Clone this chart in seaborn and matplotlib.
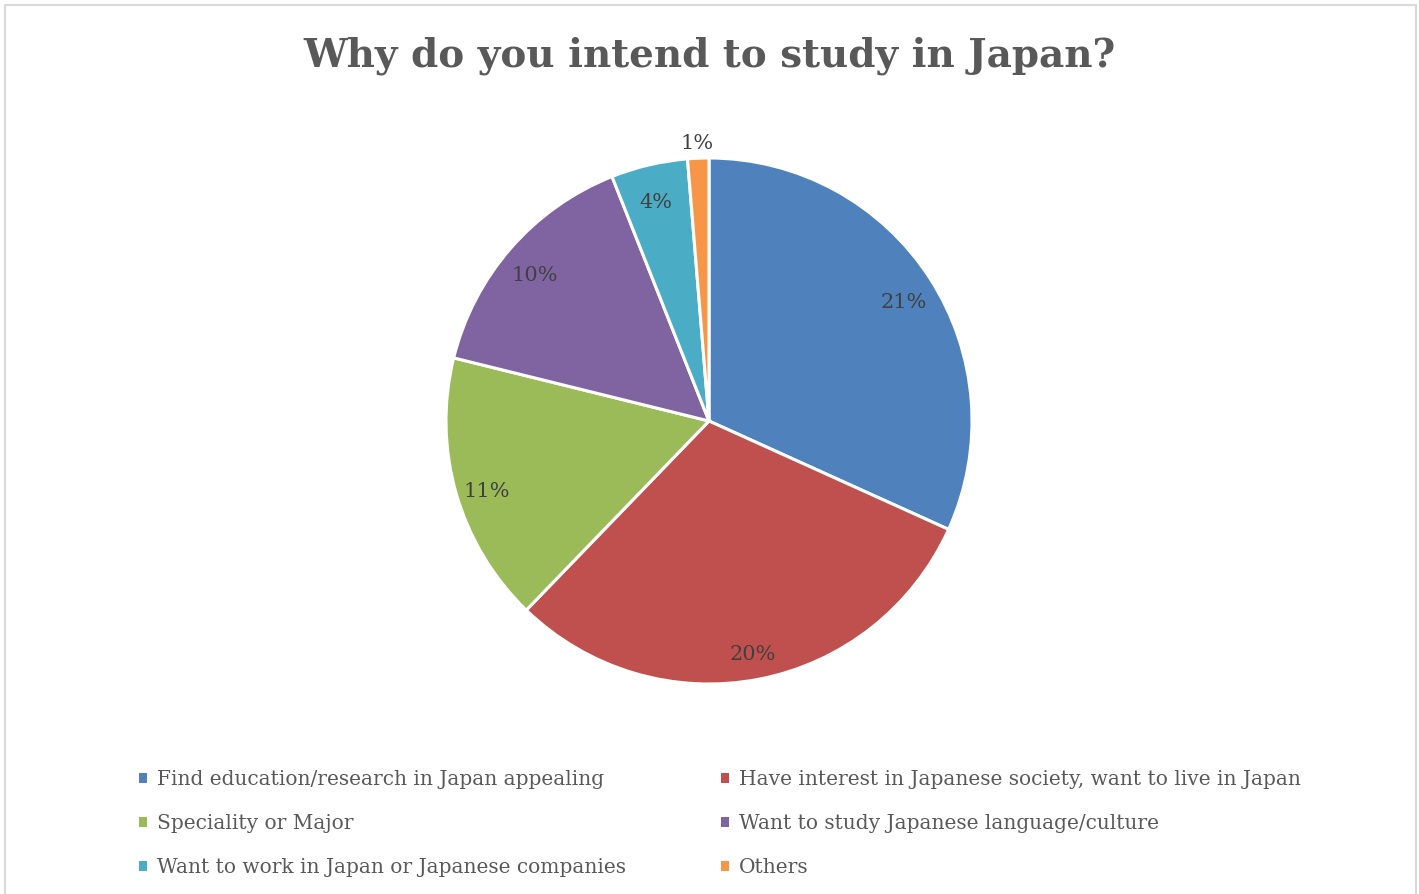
"""Pie chart: reasons for intending to study in Japan"""

import matplotlib

matplotlib.use("Agg")
import matplotlib.pyplot as plt
import numpy as np
import seaborn as sns
from matplotlib.patches import Rectangle

# reasons, in the order they appear clockwise from 12 o'clock
reasons = [
    "Find education/research in Japan appealing",
    "Have interest in Japanese society, want to live in Japan",
    "Speciality or Major",
    "Want to study Japanese language/culture",
    "Want to work in Japan or Japanese companies",
    "Others",
]
# wedge sizes as drawn (share of the circle, %)
shares = [31.7, 30.4, 16.6, 15.1, 4.7, 1.3]
# data labels printed on the chart
pct_labels = ["21%", "20%", "11%", "10%", "4%", "1%"]
colors = ["#4F81BD", "#C0504D", "#9BBB59", "#8064A2", "#4BACC6", "#F79646"]

TEXT = "#595959"
LABEL = "#404040"
SERIF = ["DejaVu Serif"]


def main():
    """Go Main."""
    sns.set_theme(style="white")
    plt.rcParams["font.family"] = SERIF

    W, H = 1419, 894
    fig = plt.figure(figsize=(W / 100, H / 100), dpi=100)

    # pie centre ~ (709, 421) px, radius ~263 px
    cx, cy, r = 709, 421, 263
    ax = fig.add_axes([(cx - r) / W, (H - cy - r) / H, 2 * r / W, 2 * r / H])
    wedges, _ = ax.pie(
        shares,
        colors=colors,
        startangle=90,
        counterclock=False,
        radius=1,
        wedgeprops={"edgecolor": "white", "linewidth": 2.2},
    )
    ax.set_xlim(-1, 1)
    ax.set_ylim(-1, 1)
    ax.set_axis_off()

    # data labels at each wedge's mid angle
    for wedge, lab in zip(wedges, pct_labels):
        mid = np.deg2rad((wedge.theta1 + wedge.theta2) / 2)
        dist = 1.08 if wedge.theta2 - wedge.theta1 < 10 else 0.88
        ax.text(
            dist * np.cos(mid),
            dist * np.sin(mid) - 0.025,
            lab,
            ha="center",
            va="center",
            fontsize=15,
            color=LABEL,
        )

    fig.text(
        0.5,
        1 - 56 / H,
        "Why do you intend to study in Japan?",
        ha="center",
        va="center",
        fontsize=28,
        fontweight="bold",
        color=TEXT,
    )

    # legend is filled row-wise in the reference: reorder for ncol=2
    order = [0, 2, 4, 1, 3, 5]
    leg = fig.legend(
        [wedges[i] for i in order],
        [reasons[i] for i in order],
        ncol=2,
        loc="upper left",
        bbox_to_anchor=(139 / W, 1 - 770 / H),
        frameon=False,
        fontsize=14.5,
        handlelength=0.4,
        handleheight=0.4,
        handletextpad=0.5,
        labelspacing=1.25,
        columnspacing=4.7,
        borderpad=0,
        borderaxespad=0,
    )
    for t in leg.get_texts():
        t.set_color(TEXT)
    for h in leg.legend_handles:
        h.set_edgecolor("none")

    fig.patches.append(
        Rectangle(
            (5 / W, -0.02),
            (1416 - 5) / W,
            1 + 0.02 - 5 / H,
            transform=fig.transFigure,
            fill=False,
            edgecolor="#D9D9D9",
            linewidth=1.5,
        )
    )

    fig.savefig("out.png", dpi=100, facecolor="white")


if __name__ == "__main__":
    main()
